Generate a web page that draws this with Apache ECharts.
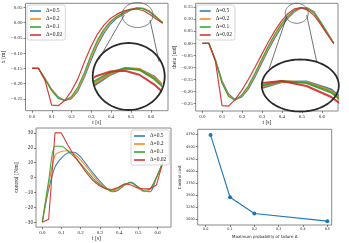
<!DOCTYPE html>
<html><head><meta charset="utf-8">
<script src="https://cdn.jsdelivr.net/npm/echarts@6/dist/echarts.min.js"></script>
<style>html,body{margin:0;padding:0;background:#fff}#c{width:349px;height:243px}</style>
</head><body><div id="c"></div>
<script>
// ---------- data ----------
const seriesNames = ['Δ=0.5', 'Δ=0.2', 'Δ=0.1', 'Δ=0.02'];
const seriesColors = ['#1f77b4', '#ff7f0e', '#2ca02c', '#d62728'];

const tState = [0, 0.033, 0.066, 0.099, 0.132, 0.165, 0.198, 0.231, 0.264, 0.297, 0.33, 0.363, 0.396, 0.429, 0.462, 0.495, 0.528, 0.561, 0.594, 0.627, 0.66];
const tControl = [0, 0.033, 0.066, 0.099, 0.132, 0.165, 0.198, 0.231, 0.264, 0.297, 0.33, 0.363, 0.396, 0.429, 0.462, 0.495, 0.528, 0.561, 0.594, 0.627];

const posBlue   = [-0.15, -0.15, -0.183, -0.218, -0.243, -0.255, -0.25, -0.225, -0.18, -0.125, -0.075, -0.035, -0.005, 0.015, 0.028, 0.04, 0.048, 0.047, 0.038, 0.02, 0.0];
const posOrange = [-0.15, -0.15, -0.184, -0.22, -0.245, -0.255, -0.247, -0.22, -0.173, -0.116, -0.066, -0.028, 0.0, 0.018, 0.03, 0.041, 0.048, 0.047, 0.037, 0.02, 0.0];
const posGreen  = [-0.15, -0.15, -0.186, -0.223, -0.248, -0.255, -0.243, -0.212, -0.165, -0.107, -0.058, -0.022, 0.004, 0.021, 0.033, 0.043, 0.048, 0.046, 0.035, 0.018, -0.001];
const posRed    = [-0.15, -0.15, -0.19, -0.27, -0.272, -0.255, -0.225, -0.185, -0.13, -0.08, -0.038, -0.008, 0.014, 0.028, 0.038, 0.044, 0.045, 0.04, 0.028, 0.012, -0.002];

const angBlue   = [0, 0, -0.068, -0.155, -0.21, -0.233, -0.222, -0.19, -0.14, -0.085, -0.03, 0.02, 0.065, 0.103, 0.13, 0.145, 0.146, 0.13, 0.088, 0.045, 0.0];
const angOrange = [0, 0, -0.07, -0.16, -0.215, -0.234, -0.218, -0.183, -0.132, -0.076, -0.022, 0.028, 0.072, 0.108, 0.133, 0.146, 0.145, 0.127, 0.086, 0.043, 0.0];
const angGreen  = [0, 0, -0.072, -0.165, -0.22, -0.235, -0.214, -0.176, -0.124, -0.068, -0.014, 0.036, 0.079, 0.113, 0.136, 0.147, 0.143, 0.124, 0.084, 0.041, 0.0];
const angRed    = [0, 0, -0.075, -0.258, -0.26, -0.232, -0.195, -0.15, -0.1, -0.048, 0.003, 0.05, 0.09, 0.122, 0.142, 0.147, 0.137, 0.115, 0.078, 0.036, -0.002];

const ctrlBlue   = [-30, -8, 7, 13, 16.5, 17, 14, 8.5, 3, -2, -6.5, -9.5, -8.5, -5, -3, -6, -9, -9.5, 0, 10];
const ctrlOrange = [-30, -5, 15, 17.5, 18, 16, 12, 7, 1.5, -3.5, -7, -9, -8, -5, -3.5, -6.5, -9.5, -8, 0, 10];
const ctrlGreen  = [-30, -2, 21, 21, 18, 14, 9.5, 4.5, -0.5, -4.5, -7.5, -8.5, -7, -4.5, -3.5, -6, -8.5, -7.5, 0, 10];
const ctrlRed    = [-30, -28, 30, 30, 22, 15, 9, 3, -2, -5.5, -7.5, -8, -6.5, -4.2, -5, -7, -7.5, -7.5, -5, 10];

const failureProb = [0.02, 0.1, 0.2, 0.5];
const controlCost = [4740, 3455, 3120, 2962];

// tick values and labels
const tTicks = [0, 0.1, 0.2, 0.3, 0.4, 0.5, 0.6];
const tLabels = ['0.0', '0.1', '0.2', '0.3', '0.4', '0.5', '0.6'];
const posTicks = [0.05, 0, -0.05, -0.1, -0.15, -0.2, -0.25];
const posLabels = ['0.05', '0.00', '\u22120.05', '\u22120.10', '\u22120.15', '\u22120.20', '\u22120.25'];
const angTicks = [0.15, 0.1, 0.05, 0, -0.05, -0.1, -0.15, -0.2, -0.25];
const angLabels = ['0.15', '0.10', '0.05', '0.00', '\u22120.05', '\u22120.10', '\u22120.15', '\u22120.20', '\u22120.25'];
const ctrlTicks = [30, 20, 10, 0, -10, -20, -30];
const ctrlLabels = ['30', '20', '10', '0', '\u221210', '\u221220', '\u221230'];
const probTicks = [0, 0.1, 0.2, 0.3, 0.4, 0.5];
const probLabels = ['0.0', '0.1', '0.2', '0.3', '0.4', '0.5'];
const costTicks = [3000, 3250, 3500, 3750, 4000, 4250, 4500, 4750];
const costLabels = ['3000', '3250', '3500', '3750', '4000', '4250', '4500', '4750'];

// ---------- chart ----------
const SERIF = 'Liberation Serif';
const SANS = 'DejaVu Sans';
const zip = (xs, ys) => xs.map((x, i) => [x, ys[i]]);

function valAxis(grid, min, max, ticks, labels, font, fs, name, gap, extra) {
  const lookup = v => { const i = ticks.findIndex(t => Math.abs(t - v) < 1e-9); return i >= 0 ? labels[i] : ''; };
  return Object.assign({
    type: 'value', gridIndex: grid, min: min, max: max,
    splitLine: { show: false },
    axisLine: { show: false, onZero: false },
    axisTick: { show: true, inside: false, length: 2, customValues: ticks, lineStyle: { color: '#333', width: 0.6 } },
    axisLabel: { show: true, customValues: ticks, formatter: lookup, fontFamily: font, fontSize: fs, color: '#222', margin: 3 },
    name: name, nameLocation: 'middle', nameGap: gap,
    nameTextStyle: { fontFamily: font, fontSize: fs + 0.6, color: '#222' }
  }, extra || {});
}
function hiddenAxis(grid, min, max) {
  return { type: 'value', gridIndex: grid, min: min, max: max, show: false, axisLine: { onZero: false }, splitLine: { show: false } };
}

const grids = [
  { left: 25.5, top: 3.3, width: 142.5, height: 107.4 },
  { left: 195.7, top: 3.3, width: 142.3, height: 107.7 },
  { left: 36, top: 128, width: 135, height: 100 },
  { left: 197.7, top: 129.3, width: 134, height: 95.7 },
  { left: 95, top: 42, width: 66, height: 68 },
  { left: 263, top: 59, width: 75, height: 53 }
].map((g, i) => Object.assign({ show: i < 4, borderColor: '#888', borderWidth: 1, backgroundColor: 'transparent', containLabel: false }, g));

const xAxes = [
  valAxis(0, -0.033, 0.687, tTicks, tLabels, SERIF, 5, 't [s]', 7.5),
  valAxis(1, -0.033, 0.681, tTicks, tLabels, SERIF, 5, 't [s]', 7.5),
  valAxis(2, -0.033, 0.67, tTicks, tLabels, SERIF, 5, 't [s]', 8.5, { nameTextStyle: { fontFamily: SERIF, fontSize: 5.6, color: '#222', padding: [0, 14, 0, 0] } }),
  valAxis(3, -0.033, 0.518, probTicks, probLabels, SANS, 3.4, 'Maximum probability of failure Δ', 9.5),
  hiddenAxis(4, 0.46, 0.61),
  hiddenAxis(5, 0.47, 0.57)
];
const yAxes = [
  valAxis(0, -0.2885, 0.0636, posTicks, posLabels, SERIF, 5, 'x [m]', 17.5),
  valAxis(1, -0.28, 0.165, angTicks, angLabels, SERIF, 5, 'theta [rad]', 17.5),
  valAxis(2, -33.3, 33.3, ctrlTicks, ctrlLabels, SERIF, 5.2, 'control [Nm]', 16.5),
  valAxis(3, 2882, 4860, costTicks, costLabels, SANS, 3.4, 'Control cost', 14),
  hiddenAxis(4, -0.0041, 0.0809),
  hiddenAxis(5, 0.085, 0.191)
];

const posSets = [posBlue, posOrange, posGreen, posRed];
const angSets = [angBlue, angOrange, angGreen, angRed];
const ctrlSets = [ctrlBlue, ctrlOrange, ctrlGreen, ctrlRed];

const series = [];
function addLines(sets, xs, axis, width, z, smoothFn) {
  sets.forEach((ys, i) => {
    series.push({
      type: 'line', name: seriesNames[i], xAxisIndex: axis, yAxisIndex: axis,
      data: zip(xs, ys), symbol: 'none', smooth: smoothFn ? smoothFn(i) : false, clip: true, z: z,
      lineStyle: { color: seriesColors[i], width: width, opacity: 0.9 },
      itemStyle: { color: seriesColors[i] }
    });
  });
}
addLines(posSets, tState, 0, 1.2, 2);
addLines(angSets, tState, 1, 1.2, 2);
addLines(ctrlSets, tControl, 2, 1.1, 2, i => (i < 3 ? 0.3 : false));
addLines(posSets, tState, 4, 2, 4);
addLines(angSets, tState, 5, 2, 4);
series.push({
  type: 'line', name: 'cost', xAxisIndex: 3, yAxisIndex: 3, data: zip(failureProb, controlCost),
  symbol: 'circle', symbolSize: 4, z: 2,
  lineStyle: { color: '#1f77b4', width: 1.1 }, itemStyle: { color: '#1f77b4' }
});

function legendAt(left, top) {
  return {
    data: seriesNames, orient: 'vertical', left: left, top: top,
    icon: 'rect', itemWidth: 11, itemHeight: 1.5, itemGap: 2, itemTextGap: 3,
    padding: [3, 3, 2, 3], backgroundColor: 'rgba(255,255,255,0.8)',
    borderColor: '#ccc', borderWidth: 0.8, borderRadius: 2,
    textStyle: { fontFamily: SERIF, fontSize: 5.5, lineHeight: 5.5, color: '#222' },
    selectedMode: false
  };
}

// magnifier decorations
function ellipsePts(cx, cy, rx, ry) {
  const pts = [];
  for (let i = 0; i < 96; i++) { const a = i / 96 * Math.PI * 2; pts.push([cx + rx * Math.cos(a), cy + ry * Math.sin(a)]); }
  return pts;
}
const graphics = [];
function magnifier(small, big, l1, l2) {
  const bp = ellipsePts(big[0], big[1], big[2], big[3]);
  graphics.push({ type: 'polygon', shape: { points: bp }, style: { fill: '#fff', stroke: 'rgba(0,0,0,0)' }, z: 3, silent: true });
  graphics.push({ type: 'polygon', shape: { points: bp }, style: { fill: 'rgba(0,0,0,0)', stroke: '#2a2a2a', lineWidth: 1.8 }, z: 5, silent: true });
  graphics.push({ type: 'polygon', shape: { points: ellipsePts(small[0], small[1], small[2], small[3]) }, style: { fill: 'rgba(0,0,0,0)', stroke: '#555', lineWidth: 0.8 }, z: 5, silent: true });
  [l1, l2].forEach(l => graphics.push({ type: 'line', shape: { x1: l[0], y1: l[1], x2: l[2], y2: l[3] }, style: { stroke: '#333', lineWidth: 0.7 }, z: 5, silent: true }));
}
magnifier([137.5, 15, 15.5, 12.5], [128.7, 76.5, 36, 33.5], [124.3, 15, 98.3, 60], [150, 20, 159, 61.7]);
magnifier([296.7, 13.3, 11.5, 10], [300.3, 85.5, 38.5, 26], [286.7, 16.7, 269.3, 68.3], [306.7, 15, 316.7, 61.7]);

const chart = echarts.init(document.getElementById('c'), null, { renderer: 'canvas' });
chart.setOption({
  animation: false,
  backgroundColor: '#fff',
  grid: grids, xAxis: xAxes, yAxis: yAxes, series: series,
  legend: [legendAt(27, 5), legendAt(196.7, 5), legendAt(131, 130)],
  graphic: { elements: graphics }
});
</script></body></html>
